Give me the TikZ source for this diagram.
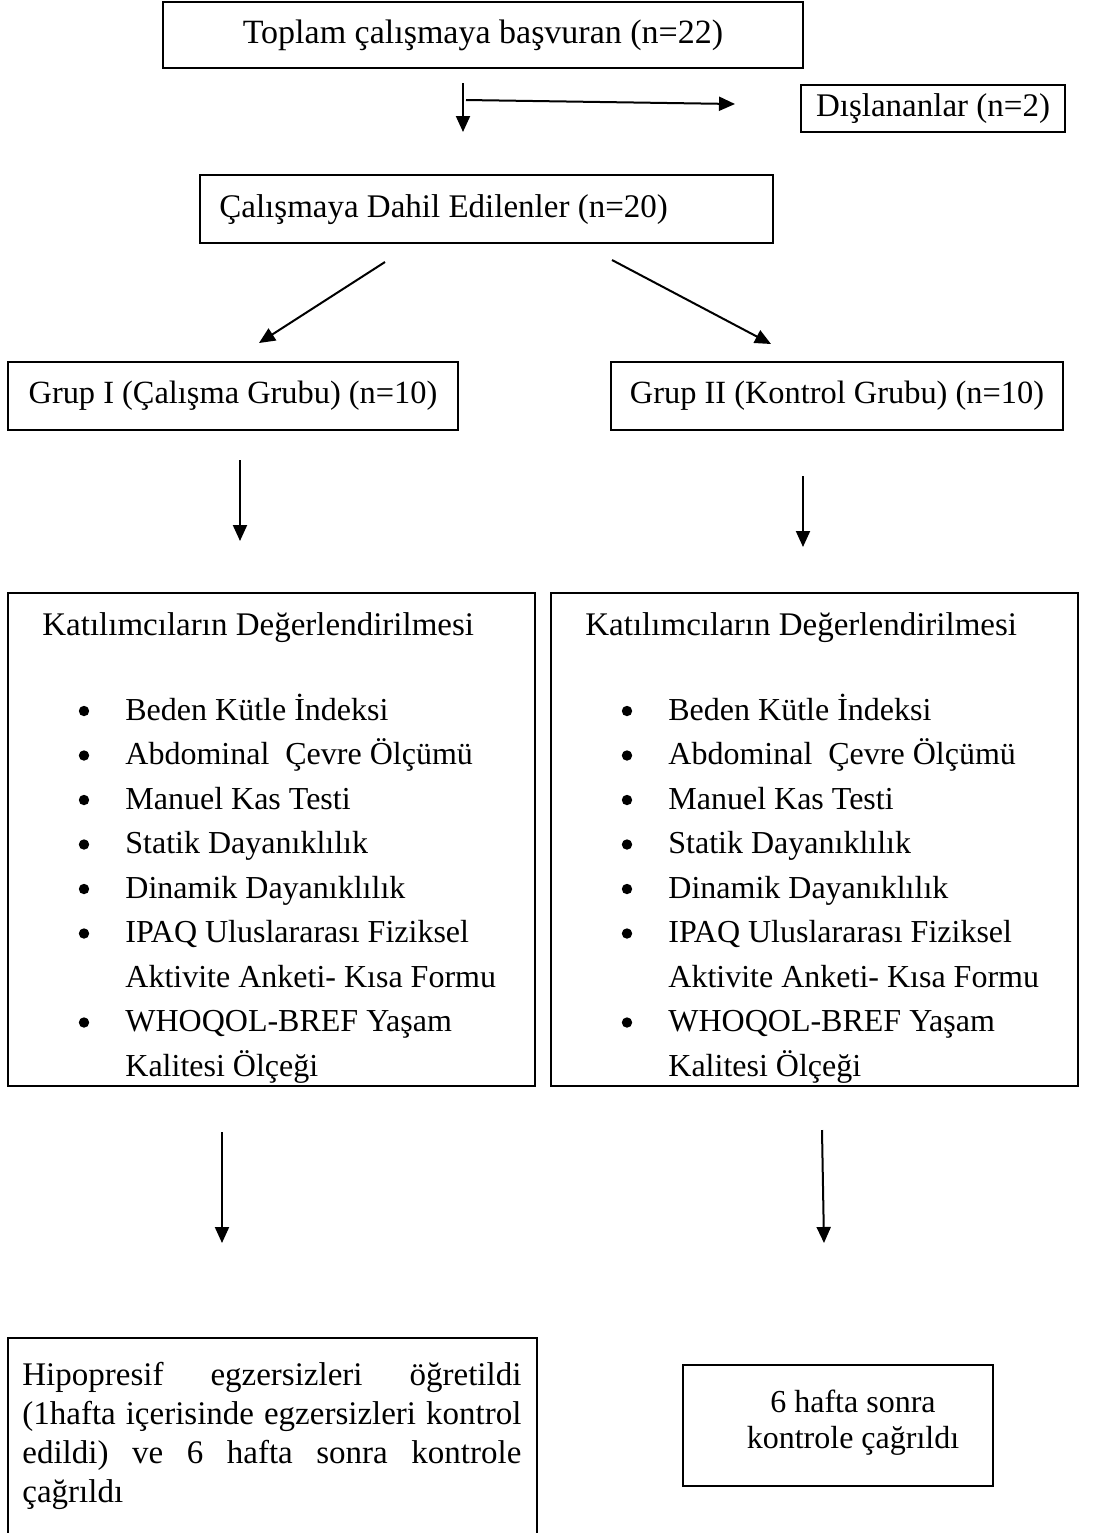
\documentclass[tikz,border=0pt]{standalone}
\usepackage{fontspec}
\setmainfont{Liberation Serif}
\usetikzlibrary{arrows.meta}
\begin{document}
\begin{tikzpicture}[x=0.5pt,y=-0.5pt,
  every node/.style={font=\fontsize{16.5}{22.25}\selectfont},
  box/.style={draw, line width=1pt, inner sep=0pt, rectangle},
  txt/.style={inner sep=0pt},
  listfont/.style={font=\fontsize{16}{22.25}\selectfont},
  conn/.style={line width=1pt, -{Triangle[length=8pt,width=7pt]}},
]
\useasboundingbox (0,0) rectangle (1096,1533);
\clip (0,0) rectangle (1096,1533);
\fill[white] (0,0) rectangle (1096,1533);

% top boxes
\node[box, minimum width=320pt, minimum height=33pt, font=\fontsize{17}{20}\selectfont]
  (total) at (483,35) {Toplam çalışmaya başvuran (n=22)};
\node[box, minimum width=132pt, minimum height=23.5pt]
  (excl) at (933,108.5) {Dışlananlar (n=2)};
\node[box, minimum width=286.5pt, minimum height=34pt] (incl) at (486.5,209) {};
\node[txt, anchor=west] (inclt) at (219,210) {Çalışmaya Dahil Edilenler (n=20)};
\node[box, minimum width=225pt, minimum height=34pt, font=\fontsize{16.2}{20}\selectfont]
  (g1) at (233,396) {Grup I (Çalışma Grubu) (n=10)};
\node[box, minimum width=226pt, minimum height=34pt, font=\fontsize{16.2}{20}\selectfont]
  (g2) at (837,396) {Grup II (Kontrol Grubu) (n=10)};

% evaluation boxes
\node[box, minimum width=263.5pt, minimum height=246.5pt] (e1) at (271.5,839.5) {};
\node[box, minimum width=263.5pt, minimum height=246.5pt] (e2) at (814.5,839.5) {};
\foreach \side/\dx in {a/0, b/543}{
  \node[txt, anchor=base west] (\side head) at (42+\dx,635) {Katılımcıların Değerlendirilmesi};
  \foreach \k/\t/\b in {0/Beden Kütle İndeksi/1,
                        1/Abdominal\ \ Çevre Ölçümü/1,
                        2/Manuel Kas Testi/1,
                        3/Statik Dayanıklılık/1,
                        4/Dinamik Dayanıklılık/1,
                        5/IPAQ Uluslararası Fiziksel/1,
                        6/Aktivite Anketi- Kısa Formu/0,
                        7/WHOQOL-BREF Yaşam/1,
                        8/Kalitesi Ölçeği/0}{
    \node[txt, listfont, anchor=base west] (\side item\k) at (125+\dx,720+44.5*\k) {\t};
    \ifnum\b=1
      \fill (84+\dx,711+44.5*\k) circle[radius=2.6pt];
    \fi
  }
}

% bottom boxes
\node[box, minimum width=264.5pt, minimum height=141pt] (h1) at (272.5,1479) {};
\node[txt, anchor=base west] (h1t) at (22,1385)
  {\parbox[t]{249.5pt}{\fontsize{16.5}{19.65}\selectfont
   \hbox to \hsize{Hipopresif\hfill egzersizleri\hfill öğretildi}
   \hbox to \hsize{(1hafta\hfill içerisinde\hfill egzersizleri\hfill kontrol}
   \hbox to \hsize{edildi)\hfill ve\hfill 6\hfill hafta\hfill sonra\hfill kontrole}
   \hbox{çağrıldı}}};
\node[box, minimum width=155pt, minimum height=60.5pt] (h2) at (838,1425.5) {};
\node[txt, anchor=base] (h2t) at (853,1412)
  {\parbox[t]{140pt}{\centering\fontsize{16}{18}\selectfont 6 hafta sonra\\kontrole çağrıldı}};

% connector endpoints
\coordinate (v1s) at (463,83);   \coordinate (v1e) at (463,132);
\coordinate (hs) at (466,100);   \coordinate (he) at (735,104);
\coordinate (d1s) at (385,262);  \coordinate (d1e) at (259,343);
\coordinate (d2s) at (612,260);  \coordinate (d2e) at (771,344);
\coordinate (g1s) at (240,460);  \coordinate (g1e) at (240,541);
\coordinate (g2s) at (803,476);  \coordinate (g2e) at (803,547);
\coordinate (e1s) at (222,1132); \coordinate (e1e) at (222,1243);
\coordinate (e2s) at (822,1130); \coordinate (e2e) at (824,1243);

\draw[conn] (v1s) -- (v1e);
\draw[conn] (hs) -- (he);
\draw[conn] (d1s) -- (d1e);
\draw[conn] (d2s) -- (d2e);
\draw[conn] (g1s) -- (g1e);
\draw[conn] (g2s) -- (g2e);
\draw[conn] (e1s) -- (e1e);
\draw[conn] (e2s) -- (e2e);
\end{tikzpicture}
\end{document}
